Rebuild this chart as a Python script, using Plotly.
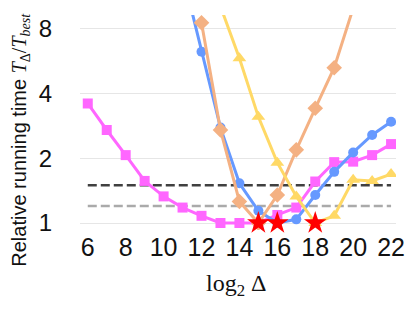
import plotly.graph_objects as go
import math

# ---- data ----
x_magenta = [6, 7, 8, 9, 10, 11, 12, 13, 14, 15, 16, 17, 18, 19, 20, 21, 22]
y_magenta = [3.6, 2.71, 2.07, 1.57, 1.33, 1.18, 1.08, 1.0, 1.0, 1.0, 1.09, 1.18, 1.56, 1.92, 1.93, 2.07, 2.33]

x_blue = [11, 12, 13, 14, 15, 16, 17, 18, 19, 20, 21, 22]
y_blue = [14.5, 6.27, 2.78, 1.53, 1.14, 1.0, 1.04, 1.35, 1.73, 2.13, 2.57, 2.96]

x_orange = [12, 13, 14, 15, 16, 17, 18, 19, 20]
y_orange = [8.55, 2.71, 1.26, 1.0, 1.35, 2.19, 3.42, 5.28, 10.0]

x_yellow = [13, 14, 15, 16, 17, 18, 19, 20, 21, 22]
y_yellow = [10.2, 5.84, 3.12, 1.91, 1.33, 1.0, 1.08, 1.59, 1.57, 1.69]

x_best = [15, 16, 18]
y_best = [1.0, 1.0, 1.0]

ref_x = [6, 22]
ref_dark = 1.5
ref_gray = 1.2

x_ticks = [6, 8, 10, 12, 14, 16, 18, 20, 22]
y_ticks = [1, 2, 4, 8]

# ---- figure ----
fig = go.Figure()

fig.add_trace(go.Scatter(x=ref_x, y=[ref_dark] * 2, mode="lines",
                         line=dict(color="#404040", width=2.5, dash="9px,4px")))
fig.add_trace(go.Scatter(x=ref_x, y=[ref_gray] * 2, mode="lines",
                         line=dict(color="#AAAAAA", width=2.5, dash="9px,4px")))

fig.add_trace(go.Scatter(x=x_magenta, y=y_magenta, mode="lines+markers",
                         line=dict(color="#FF66FF", width=3),
                         marker=dict(symbol="square", size=10, color="#FF66FF")))
fig.add_trace(go.Scatter(x=x_blue, y=y_blue, mode="lines+markers",
                         line=dict(color="#6699FF", width=3),
                         marker=dict(symbol="circle", size=10, color="#6699FF")))
fig.add_trace(go.Scatter(x=x_orange, y=y_orange, mode="lines+markers",
                         line=dict(color="#F4B183", width=3),
                         marker=dict(symbol="diamond", size=12, color="#F4B183")))
fig.add_trace(go.Scatter(x=x_yellow, y=y_yellow, mode="lines+markers",
                         line=dict(color="#FFD966", width=3),
                         marker=dict(symbol="triangle-up", size=12, color="#FFD966")))
fig.add_trace(go.Scatter(x=x_best, y=y_best, mode="markers", cliponaxis=False,
                         marker=dict(symbol="star", size=17, color="#FF0000",
                                     line=dict(width=0))))

L, R, T, B = 80, 10, 15, 82
W, H = 415, 312
ppd = 64.67  # px per doubling
plot_h = H - T - B
top_log2 = (223 - T) / ppd
bot_log2 = -(T + plot_h - 223) / ppd

fig.update_layout(
    width=W, height=H,
    margin=dict(l=L, r=R, t=T, b=B),
    paper_bgcolor="white", plot_bgcolor="white",
    showlegend=False,
    font=dict(family="Liberation Sans, Arial, sans-serif", color="#111111"),
    xaxis=dict(range=[5.59, 22.26], tickvals=x_ticks, showgrid=False,
               zeroline=False, showline=False,
               ticks="", tickfont=dict(size=25)),
    yaxis=dict(type="log",
               range=[bot_log2 * math.log10(2), top_log2 * math.log10(2)],
               tickvals=y_ticks, ticktext=[str(v) for v in y_ticks],
               showgrid=True, gridcolor="#E6E6E6", gridwidth=1,
               zeroline=False, showline=False,
               ticks="outside", ticklen=22, tickcolor="rgba(0,0,0,0)",
               tickfont=dict(size=24)),
)

pw = W - L - R
fig.add_annotation(
    text='Relative running time <span style="font-family:Liberation Serif"><i>T</i><sub>Δ</sub>/<i>T</i><sub><i>best</i></sub></span>',
    xref="paper", yref="paper",
    x=(18 - L) / pw, y=(T + plot_h - 140) / plot_h,
    xanchor="center", yanchor="middle", textangle=-90,
    showarrow=False, font=dict(size=20, color="#111111"))

fig.add_annotation(
    text='log<sub>2</sub> Δ',
    xref="paper", yref="paper",
    x=(241 - L) / pw, y=(T + plot_h - 285) / plot_h,
    xanchor="center", yanchor="middle",
    showarrow=False, font=dict(size=24, family="Liberation Serif", color="#111111"))

fig.write_html("out.html", config={"displayModeBar": False},
               post_script="document.body.style.margin='0';document.body.style.overflow='hidden';")
